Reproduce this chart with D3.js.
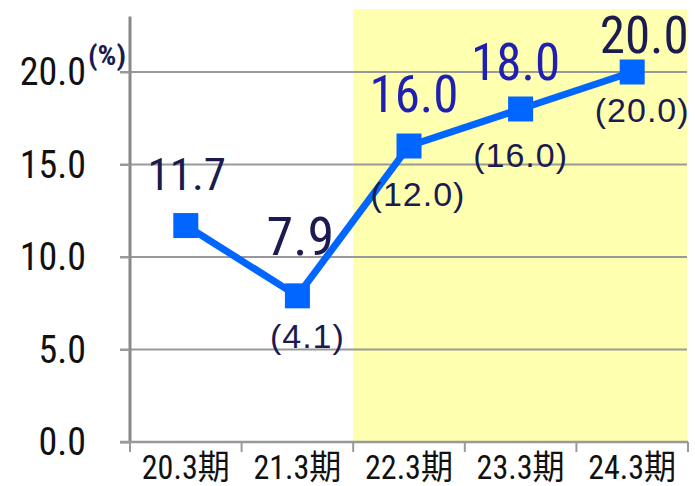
<!DOCTYPE html>
<html>
<head>
<meta charset="utf-8">
<script src="https://cdn.jsdelivr.net/npm/d3@7"></script>
<style>
  body { margin: 0; background: #fff; }
  svg { display: block; }
</style>
</head>
<body>
<svg width="695" height="486"></svg>
<script>
// data
const periods = ["20.3期", "21.3期", "22.3期", "23.3期", "24.3期"];
const actual = [11.7, 7.9, 16.0, 18.0, 20.0];
const plan = [null, 4.1, 12.0, 16.0, 20.0];
const yTicks = [0, 5, 10, 15, 20];
const forecastFrom = "22.3期";

// label styling (hand-placed in the original)
const labelSize = [45, 54, 51, 51, 51];
const labelColor = ["#1b1b50", "#1b1b50", "#1f1fb0", "#1f1fb0", "#1b1b50"];
const labelNudge = [[1, -36], [3, -41], [5, -34], [-5, -29], [12, -19]];
const planNudge = [null, [10, 52], [9, 60], [0, 58], [10, 50]];

const svg = d3.select("svg"),
  width = +svg.attr("width"),
  height = +svg.attr("height");

const narrow = "'Liberation Sans Narrow', 'Arial Narrow', 'Roboto Condensed', sans-serif";

const x = d3.scaleBand()
  .domain(periods)
  .range([130, 688])
  .padding(0);

const y = d3.scaleLinear()
  .domain([0, 23])
  .range([442, 16.5]);

// shaded forecast area
svg.append("rect")
  .attr("x", x(forecastFrom))
  .attr("y", 9)
  .attr("width", x.range()[1] - x(forecastFrom) - 1)
  .attr("height", y(0) - 9)
  .attr("fill", "#ffffb0");

// gridlines
svg.append("g")
  .selectAll("line")
  .data(yTicks.filter(d => d > 0))
  .join("line")
  .attr("x1", 120)
  .attr("x2", 687)
  .attr("y1", d => y(d))
  .attr("y2", d => y(d))
  .attr("stroke", "#999")
  .attr("stroke-width", 2);

// y axis
const yAxis = svg.append("g")
  .attr("transform", `translate(${x.range()[0]},0)`)
  .call(d3.axisLeft(y).tickValues(yTicks).tickSize(10).tickFormat(d3.format(".1f")));
yAxis.select(".domain").attr("stroke", "#888").attr("stroke-width", 3)
  .attr("d", `M0,${y(23)}V${y(0)}`);
yAxis.selectAll(".tick line").attr("stroke", "#999").attr("stroke-width", 2);
yAxis.selectAll(".tick text")
  .attr("x", -44)
  .attr("dy", "0.34em")
  .attr("fill", "#111")
  .style("font-family", narrow)
  .style("font-size", "38px");

svg.append("text")
  .attr("x", 88)
  .attr("y", 65)
  .attr("fill", "#1b1b50")
  .attr("textLength", 38)
  .attr("lengthAdjust", "spacingAndGlyphs")
  .style("font-family", narrow)
  .style("font-size", "27px")
  .style("font-weight", "bold")
  .text("(%)");

// x axis
const xAxis = svg.append("g")
  .attr("transform", `translate(0,${y(0)})`);
xAxis.append("line")
  .attr("x1", 120)
  .attr("x2", x.range()[1])
  .attr("stroke", "#999")
  .attr("stroke-width", 2.5);
xAxis.selectAll(".bt")
  .data(periods.map(p => x(p)).concat([x.range()[1]]))
  .join("line")
  .attr("class", "bt")
  .attr("x1", d => d)
  .attr("x2", d => d)
  .attr("y1", 0)
  .attr("y2", 10)
  .attr("stroke", "#999")
  .attr("stroke-width", 2);
xAxis.selectAll(".xl")
  .data(periods)
  .join("text")
  .attr("class", "xl")
  .attr("x", d => x(d) + x.bandwidth() / 2)
  .attr("y", 37)
  .attr("text-anchor", "middle")
  .attr("textLength", 88)
  .attr("lengthAdjust", "spacingAndGlyphs")
  .attr("fill", "#111")
  .style("font-family", narrow + ", 'Noto Sans CJK JP'")
  .style("font-size", "34px")
  .text(d => d);

// line + markers
const pts = periods.map((p, i) => ({ p, v: actual[i], plan: plan[i], i }));
const cx = d => x(d.p) + x.bandwidth() / 2;

svg.append("path")
  .datum(pts)
  .attr("fill", "none")
  .attr("stroke", "#0066ff")
  .attr("stroke-width", 7)
  .attr("d", d3.line().x(cx).y(d => y(d.v)));

svg.append("g")
  .selectAll("rect")
  .data(pts)
  .join("rect")
  .attr("x", d => cx(d) - 12.5)
  .attr("y", d => y(d.v) - 12.5)
  .attr("width", 25)
  .attr("height", 25)
  .attr("fill", "#0066ff");

// value labels
svg.append("g")
  .selectAll("text")
  .data(pts)
  .join("text")
  .attr("x", d => cx(d) + labelNudge[d.i][0])
  .attr("y", d => y(d.v) + labelNudge[d.i][1])
  .attr("text-anchor", "middle")
  .attr("fill", d => labelColor[d.i])
  .style("font-family", narrow)
  .style("font-size", d => labelSize[d.i] + "px")
  .text(d => d3.format(".1f")(d.v));

// plan labels
svg.append("g")
  .selectAll("text")
  .data(pts.filter(d => d.plan != null))
  .join("text")
  .attr("x", d => cx(d) + planNudge[d.i][0])
  .attr("y", d => y(d.v) + planNudge[d.i][1])
  .attr("text-anchor", "middle")
  .attr("fill", "#1b1b50")
  .style("font-family", "'Liberation Sans', Arial, sans-serif")
  .style("font-size", "34px")
  .style("letter-spacing", "1px")
  .text(d => `(${d3.format(".1f")(d.plan)})`);
</script>
</body>
</html>
